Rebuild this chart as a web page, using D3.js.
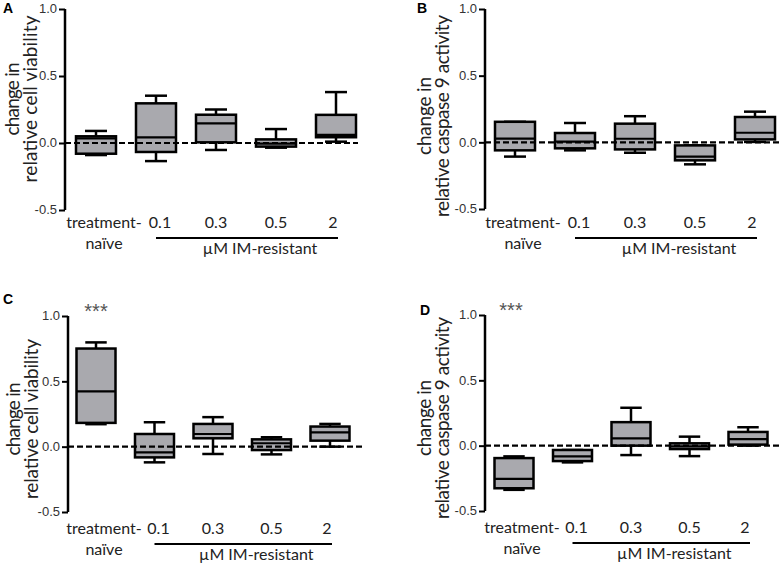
<!DOCTYPE html>
<head>
    <meta charset="utf-8" />
    <script src="https://d3js.org/d3.v7.min.js"></script>
    <style>
        body { margin: 0; background: #fff; }
        svg text { font-family: Lato, "Liberation Sans", sans-serif; }
        .tick-label { font-family: "Liberation Sans", Arial, sans-serif !important; font-size: 13px; fill: #333; }
        .panel-letter { font-family: "Liberation Sans", Arial, sans-serif !important; font-size: 14px; font-weight: bold; }
    </style>
</head>
<body>
<div id="chart"></div>
<script>
    // categories on the x axis
    const categories = ["treatment-naïve", "0.1", "0.3", "0.5", "2"];
    const groupLabel = "µM IM-resistant";
    const yTicks = [1.0, 0.5, 0.0, -0.5];

    // box stats per group: [min, q1, median, q3, max]
    const viabilityTop = [
        [-0.09, -0.08, 0.035, 0.05, 0.09],
        [-0.135, -0.067, 0.042, 0.296, 0.353],
        [-0.052, 0.005, 0.147, 0.211, 0.25],
        [-0.035, -0.027, -0.005, 0.027, 0.104],
        [0.01, 0.043, 0.06, 0.21, 0.38]
    ];
    const caspaseTop = [
        [-0.107, -0.06, 0.028, 0.154, 0.154],
        [-0.06, -0.045, 0.005, 0.07, 0.145],
        [-0.078, -0.053, 0.027, 0.14, 0.196],
        [-0.165, -0.135, -0.107, -0.023, -0.023],
        [0.003, 0.022, 0.072, 0.19, 0.23]
    ];
    const viabilityBottom = [
        [0.172, 0.182, 0.423, 0.751, 0.798],
        [-0.12, -0.082, -0.044, 0.097, 0.187],
        [-0.056, 0.064, 0.097, 0.174, 0.226],
        [-0.059, -0.026, 0.026, 0.056, 0.072],
        [0.0, 0.046, 0.11, 0.154, 0.174]
    ];
    const caspaseBottom = [
        [-0.338, -0.326, -0.254, -0.095, -0.082],
        [-0.128, -0.118, -0.082, -0.033, -0.033],
        [-0.072, 0.0, 0.056, 0.18, 0.29],
        [-0.08, -0.026, -0.005, 0.018, 0.069],
        [0.0, 0.008, 0.05, 0.105, 0.141]
    ];

    // panel layout
    const panels = [
        { letter: "A", stats: viabilityTop, title: "relative cell viability", stars: false,
          axisX: 65, yTop: 9, yBot: 210, x0: 96, x1: 336, lineEnd: 358, boxW: 40,
          letterPos: [3, 13], titleX: [18.5, 36.5], titleY: 99, titleLen: [73, 167], labelY: 228 },
        { letter: "B", stats: caspaseTop, title: "relative caspase 9 activity", stars: false,
          axisX: 485, yTop: 9, yBot: 209, x0: 515, x1: 755, lineEnd: 779, boxW: 40,
          letterPos: [417, 13], titleX: [431, 449], titleY: 116, titleLen: [78, 202], labelY: 228 },
        { letter: "C", stats: viabilityBottom, title: "relative cell viability", stars: true,
          axisX: 68, yTop: 316, yBot: 512, x0: 96, x1: 330, lineEnd: 362, boxW: 39,
          letterPos: [3, 304], titleX: [19.5, 37.5], titleY: 419, titleLen: [73, 160], labelY: 534 },
        { letter: "D", stats: caspaseBottom, title: "relative caspase 9 activity", stars: true,
          axisX: 485, yTop: 315, yBot: 511, x0: 514, x1: 748, lineEnd: 779, boxW: 39,
          letterPos: [420, 315], titleX: [431, 449], titleY: 418, titleLen: [76, 202], labelY: 533 }
    ];
    const labelNudge = [8, 4, 0, 0, -3];

    const svg = d3.select("#chart").append("svg")
        .attr("width", 779)
        .attr("height", 564);

    panels.forEach(function(p) {
        const g = svg.append("g");
        const y = d3.scaleLinear().domain([-0.5, 1.0]).range([p.yBot, p.yTop]);
        const x = d3.scalePoint().domain(categories).range([p.x0, p.x1]);

        // panel letter
        g.append("text").attr("class", "panel-letter")
            .attr("x", p.letterPos[0]).attr("y", p.letterPos[1])
            .text(p.letter);

        // y axis title (two lines)
        ["change in", p.title].forEach(function(t, i) {
            g.append("text")
                .attr("transform", "translate(" + p.titleX[i] + "," + p.titleY + ") rotate(-90)")
                .attr("text-anchor", "middle")
                .attr("textLength", p.titleLen[i])
                .attr("lengthAdjust", "spacing")
                .style("font-size", "19px")
                .attr("fill", "#222")
                .text(t);
        });

        // y axis
        const axis = d3.axisLeft(y).tickValues(yTicks).tickSize(6).tickPadding(2)
            .tickFormat(d3.format(".1f"));
        const ag = g.append("g").attr("transform", "translate(" + p.axisX + ",0)").call(axis);
        ag.select(".domain").attr("stroke", "#000").attr("stroke-width", 2.5)
            .attr("d", "M0," + p.yTop + "V" + p.yBot);
        ag.selectAll(".tick line").attr("stroke", "#000").attr("stroke-width", 2);
        ag.selectAll(".tick text").attr("class", "tick-label").attr("dy", "0.3em")
            .text(function(d) { return d3.format(".1f")(d).replace("−", "-"); });

        // boxes
        const boxes = g.selectAll(".box").data(p.stats).enter().append("g")
            .attr("transform", function(d, i) { return "translate(" + x(categories[i]) + ",0)"; });
        const hw = p.boxW / 2, cw = hw * 0.55;
        boxes.append("line")
            .attr("y1", function(d) { return y(d[4]); })
            .attr("y2", function(d) { return y(d[0]); })
            .attr("stroke", "#000").attr("stroke-width", 2.5);
        boxes.append("line").attr("x1", -cw).attr("x2", cw)
            .attr("y1", function(d) { return y(d[4]); }).attr("y2", function(d) { return y(d[4]); })
            .attr("stroke", "#000").attr("stroke-width", 2.5);
        boxes.append("line").attr("x1", -cw).attr("x2", cw)
            .attr("y1", function(d) { return y(d[0]); }).attr("y2", function(d) { return y(d[0]); })
            .attr("stroke", "#000").attr("stroke-width", 2.5);
        boxes.append("rect")
            .attr("x", -hw).attr("width", p.boxW)
            .attr("y", function(d) { return y(d[3]); })
            .attr("height", function(d) { return Math.max(1, y(d[1]) - y(d[3])); })
            .attr("fill", "#a9a9ae").attr("stroke", "#000").attr("stroke-width", 2.5);
        boxes.append("line").attr("x1", -hw).attr("x2", hw)
            .attr("y1", function(d) { return y(d[2]); }).attr("y2", function(d) { return y(d[2]); })
            .attr("stroke", "#000").attr("stroke-width", 2.2);

        // dashed zero line
        g.append("line")
            .attr("x1", p.axisX).attr("x2", p.lineEnd)
            .attr("y1", y(0)).attr("y2", y(0))
            .attr("stroke", "#000").attr("stroke-width", 2.2)
            .attr("stroke-dasharray", "6,3");

        // x labels
        categories.forEach(function(c, i) {
            const cx = x(c) + labelNudge[i];
            const lines = i === 0 ? ["treatment-", "naïve"] : [c];
            lines.forEach(function(t, j) {
                g.append("text")
                    .attr("x", cx).attr("y", p.labelY + j * 21)
                    .attr("text-anchor", "middle")
                    .style("font-size", "16px").attr("fill", "#222")
                    .text(t);
            });
        });

        // group bracket line + label
        const gx0 = x(categories[1]), gx1 = x(categories[categories.length - 1]) + 2;
        g.append("line")
            .attr("x1", gx0).attr("x2", gx1)
            .attr("y1", p.labelY + 10).attr("y2", p.labelY + 10)
            .attr("stroke", "#000").attr("stroke-width", 1.8);
        g.append("text")
            .attr("x", (gx0 + gx1) / 2 + 13).attr("y", p.labelY + 26)
            .attr("text-anchor", "middle")
            .style("font-size", "16px").attr("fill", "#222")
            .text(groupLabel);

        // significance marker
        if (p.stars) {
            g.append("text")
                .attr("x", x(categories[0]) + (p.letter === "D" ? -3 : 0))
                .attr("y", p.yTop + 2)
                .attr("text-anchor", "middle")
                .style("font-family", "'Liberation Sans', Arial, sans-serif")
                .style("font-size", "20px").attr("fill", "#555")
                .text("***");
        }
    });
</script>
</body>
